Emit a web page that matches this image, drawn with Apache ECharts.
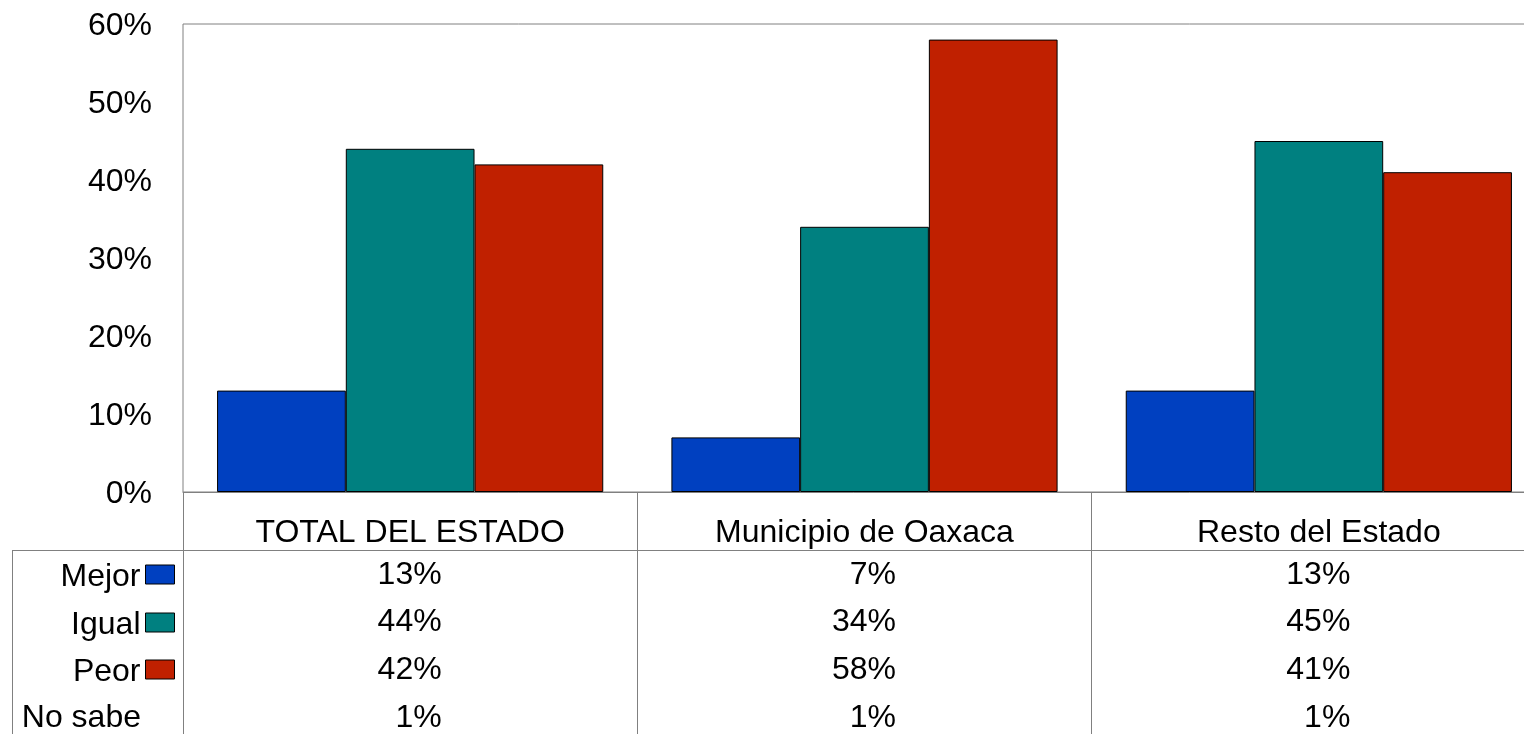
<!DOCTYPE html>
<html>
<head>
<meta charset="utf-8">
<script src="https://cdn.jsdelivr.net/npm/echarts@6/dist/echarts.min.js"></script>
<style>
html,body{margin:0;padding:0;background:#fff;}
#chart{width:1524px;height:734px;}
</style>
</head>
<body>
<div id="chart"></div>
<script>
var categories = ['TOTAL DEL ESTADO', 'Municipio de Oaxaca', 'Resto del Estado'];
var mejor = [13, 7, 13];
var igual = [44, 34, 45];
var peor = [42, 58, 41];
var noSabe = [1, 1, 1];
var seriesNames = ['Mejor', 'Igual', 'Peor'];
var colors = ['#0040C0', '#008080', '#C02000'];
var yTicks = [0, 10, 20, 30, 40, 50, 60];

var FONT = 'Liberation Sans, Arial, sans-serif';
var FS = 32;
var chart = echarts.init(document.getElementById('chart'));

function tableAxis(values, margin) {
  return {
    type: 'category',
    data: categories,
    position: 'bottom',
    gridIndex: 0,
    offset: 0,
    axisLine: {show: false},
    axisTick: {show: false},
    splitLine: {show: false},
    axisLabel: {
      margin: margin,
      verticalAlign: 'middle',
      interval: 0,
      formatter: function (v, i) { return '{v|' + values[i] + '%}'; },
      rich: {v: {width: 63, align: 'right', fontSize: FS, fontFamily: FONT, color: '#000'}}
    }
  };
}

function legendFor(i, top) {
  return {
    data: [seriesNames[i]],
    right: 1524 - 175,
    top: top,
    padding: 0,
    align: 'right',
    itemWidth: 29,
    itemHeight: 19,
    itemGap: 0,
    icon: 'rect',
    selectedMode: false,
    itemStyle: {color: colors[i], borderColor: '#000', borderWidth: 1},
    formatter: function (name) { return '{t|' + name + '}'; },
    textStyle: {
      fontSize: FS, fontFamily: FONT, color: '#000',
      rich: {t: {fontSize: FS, fontFamily: FONT, color: '#000', lineHeight: 32, padding: [5, 0, 0, 0]}}
    }
  };
}

var series = [mejor, igual, peor].map(function (d, i) {
  return {
    name: seriesNames[i],
    type: 'bar',
    data: d,
    xAxisIndex: 0,
    yAxisIndex: 0,
    barGap: '0%',
    barCategoryGap: '15%',
    itemStyle: {color: colors[i], borderColor: '#000', borderWidth: 1}
  };
});

var option = {
  animation: false,
  backgroundColor: '#fff',
  grid: {
    left: 183, top: 24, width: 1363, height: 468,
    show: true, borderColor: '#808080', borderWidth: 1, backgroundColor: 'transparent',
    containLabel: false,
    outerBoundsMode: 'none'
  },
  legend: [legendFor(0, 556), legendFor(1, 604), legendFor(2, 651)],
  xAxis: [
    {
      type: 'category',
      data: categories,
      position: 'bottom',
      axisLine: {show: true, lineStyle: {color: '#808080', width: 1}},
      axisTick: {show: true, length: 242, inside: false, lineStyle: {color: '#808080', width: 1}},
      axisLabel: {margin: 41, verticalAlign: 'middle', interval: 0, fontSize: FS, fontFamily: FONT, color: '#000'},
      splitLine: {show: false}
    },
    tableAxis(mejor, 83),
    tableAxis(igual, 130),
    tableAxis(peor, 178),
    tableAxis(noSabe, 226)
  ],
  yAxis: {
    type: 'value',
    min: yTicks[0],
    max: yTicks[yTicks.length - 1],
    interval: 10,
    axisLine: {show: false},
    axisTick: {show: false},
    splitLine: {show: false},
    axisLabel: {
      margin: 31, color: '#000',
      formatter: function (v) { return '{a|' + v + '%}'; },
      rich: {a: {fontSize: 32, fontFamily: FONT, color: '#000', lineHeight: 32, padding: [5, 0, 0, 0]}}
    }
  },
  graphic: [
    {type: 'line', shape: {x1: 12, y1: 550.5, x2: 1524, y2: 550.5}, style: {stroke: '#808080', lineWidth: 1}, silent: true},
    {type: 'line', shape: {x1: 12.5, y1: 550, x2: 12.5, y2: 734}, style: {stroke: '#808080', lineWidth: 1}, silent: true},
    {type: 'text', x: 141, y: 718, style: {text: 'No sabe', align: 'right', verticalAlign: 'middle', fontSize: FS, fontFamily: FONT, fill: '#000'}, silent: true}
  ],
  series: series
};
chart.setOption(option);
</script>
</body>
</html>
